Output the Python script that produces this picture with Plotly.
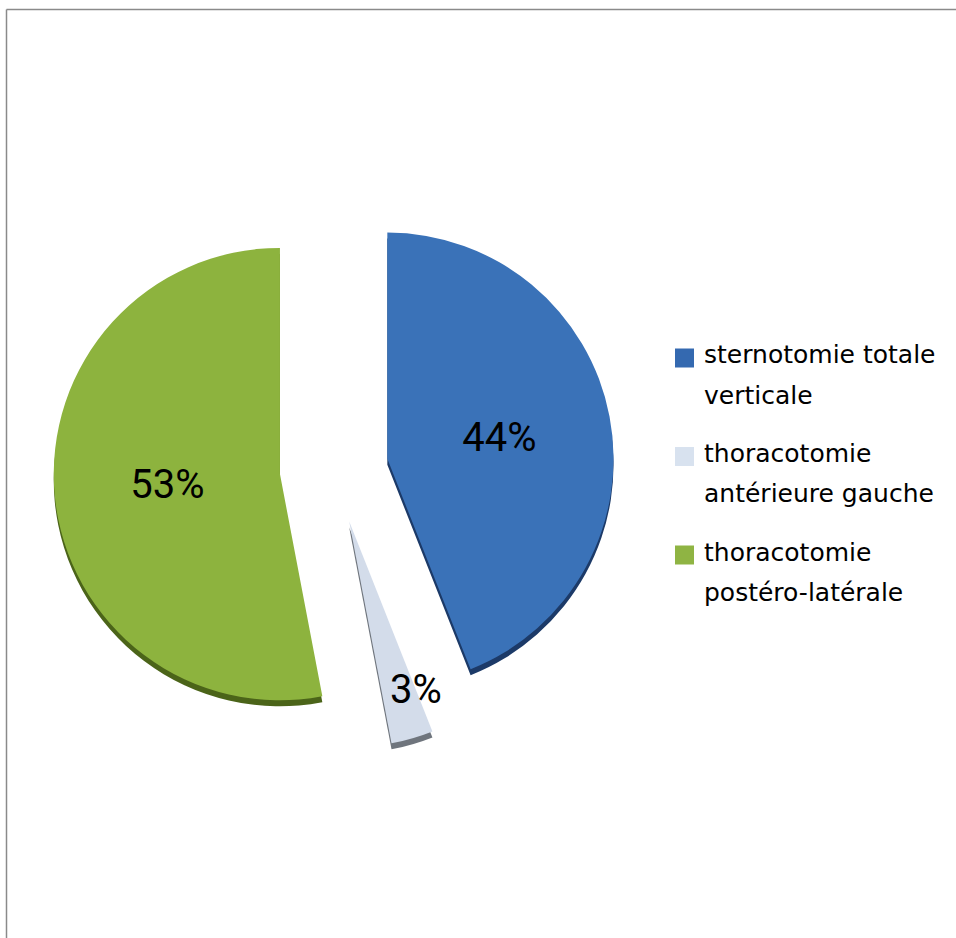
import math
import plotly.graph_objects as go

# Surgical approach distribution
labels = [
    "sternotomie totale verticale",
    "thoracotomie antérieure gauche",
    "thoracotomie postéro-latérale",
]
legend_lines = [
    ["sternotomie totale", "verticale"],
    ["thoracotomie", "antérieure gauche"],
    ["thoracotomie", "postéro-latérale"],
]
values = [44, 3, 53]

colors = ["#3a72b8", "#d3dcea", "#8db33e"]
rim_colors = ["#1c3a68", "#6f757d", "#4b6419"]
legend_colors = ["#3469b0", "#d8e2ef", "#8fb443"]
pull = 0.24

W, H = 956, 938
cx, cy, box = 334, 469, 561          # pie box centre and size, px
rim = 6                              # depth of the extruded edge, px


def pie_domain(dy=0.0):
    return dict(
        x=[(cx - box / 2) / W, (cx + box / 2) / W],
        y=[1 - (cy + dy + box / 2) / H, 1 - (cy + dy - box / 2) / H],
    )


fig = go.Figure()

# darker copy underneath gives the slices a bit of depth
fig.add_trace(go.Pie(
    labels=labels, values=values, sort=False, direction="clockwise",
    rotation=0, pull=[pull] * len(values), domain=pie_domain(rim),
    marker=dict(colors=rim_colors, line=dict(width=0)),
    textinfo="none", hoverinfo="skip", showlegend=False,
))

pct_font = dict(family="Liberation Sans Narrow, Roboto, sans-serif", size=40, color="#000000")
texts = ["%{percent:.0%}", "", "%{percent:.0%}"]

fig.add_trace(go.Pie(
    labels=labels, values=values, sort=False, direction="clockwise",
    rotation=0, pull=[pull] * len(values), domain=pie_domain(0),
    marker=dict(colors=colors, line=dict(width=0)),
    texttemplate=texts, textposition="inside",
    insidetextorientation="horizontal", insidetextfont=pct_font,
    showlegend=False,
))

# label of the thin slice, placed along its leading edge near the rim
total = sum(values)
r = box / (2 * (1 + pull))
start = 360 * values[0] / total
mid = start + 180 * values[1] / total
ax = cx + pull * r * math.sin(math.radians(mid))
ay = cy - pull * r * math.cos(math.radians(mid))
lx = ax + 0.8 * r * math.sin(math.radians(start))
ly = ay - 0.8 * r * math.cos(math.radians(start))

annotations = [dict(
    x=lx / W, y=1 - ly / H, xref="paper", yref="paper",
    text=f"{round(100 * values[1] / total)}%", showarrow=False,
    font=pct_font, xanchor="center", yanchor="middle",
)]

# legend drawn by hand: square swatch plus two text lines per entry
shapes = []
first_line, line_gap, pitch = 355, 40, 98.5
sq_x0, sq_size, txt_x = 675, 19, 702
for i, (lines, col) in enumerate(zip(legend_lines, legend_colors)):
    y0 = first_line + i * pitch
    sc = y0 + 3
    shapes.append(dict(
        type="rect", xref="paper", yref="paper",
        x0=sq_x0 / W, x1=(sq_x0 + sq_size) / W,
        y0=1 - (sc + sq_size / 2) / H, y1=1 - (sc - sq_size / 2) / H,
        fillcolor=col, line=dict(width=0),
    ))
    for j, t in enumerate(lines):
        annotations.append(dict(
            x=txt_x / W, y=1 - (y0 + j * line_gap) / H,
            xref="paper", yref="paper", text=t, showarrow=False,
            xanchor="left", yanchor="middle",
            font=dict(family="DejaVu Sans", size=25, color="#000000"),
        ))

# chart frame (top and left edges)
frame = dict(color="#8a8a8a", width=1.5)
shapes.append(dict(type="line", xref="paper", yref="paper",
                   x0=6.5 / W, x1=1.01, y0=1 - 9.5 / H, y1=1 - 9.5 / H, line=frame))
shapes.append(dict(type="line", xref="paper", yref="paper",
                   x0=6.5 / W, x1=6.5 / W, y0=1 - 9.5 / H, y1=-0.01, line=frame))

fig.update_layout(
    width=W, height=H,
    margin=dict(l=0, r=0, t=0, b=0),
    paper_bgcolor="#ffffff", plot_bgcolor="#ffffff",
    showlegend=False,
    annotations=annotations, shapes=shapes,
)

fig.write_html("out.html")
